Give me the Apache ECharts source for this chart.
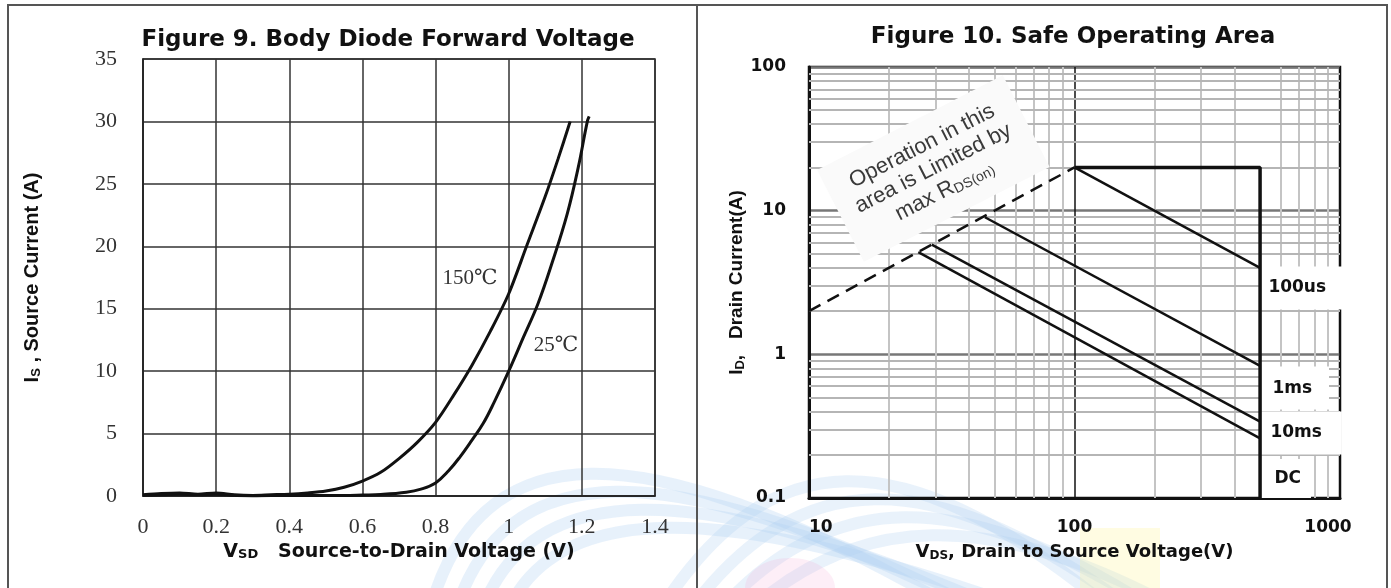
<!DOCTYPE html>
<html lang="en">

<head>
    <meta charset="UTF-8">
    <title>Body Diode Forward Voltage / Safe Operating Area</title>
    <script src="https://cdn.jsdelivr.net/npm/echarts@6/dist/echarts.min.js"></script>
    <style>
        html, body { margin: 0; padding: 0; background: #fff; }
        #main { width: 1391px; height: 588px; }
    </style>
</head>

<body>
    <div id="main"></div>
    <script type="text/javascript">
        // Figure 9: body diode forward voltage (V) vs source current (A)
        var vsd150 = [0, 0.05, 0.1, 0.15, 0.2, 0.25, 0.3, 0.35, 0.4, 0.45, 0.5, 0.55, 0.6, 0.65, 0.7, 0.75, 0.8, 0.85, 0.9, 0.95, 1.0, 1.05, 1.1, 1.135, 1.168];
        var is150 = [0.1, 0.2, 0.25, 0.15, 0.25, 0.1, 0.05, 0.1, 0.15, 0.25, 0.4, 0.7, 1.2, 1.9, 3.0, 4.3, 5.9, 8.1, 10.5, 13.2, 16.2, 20.1, 24.0, 27.0, 30.0];
        var vsd25 = [0, 0.05, 0.1, 0.15, 0.2, 0.25, 0.3, 0.35, 0.4, 0.45, 0.5, 0.55, 0.6, 0.65, 0.72, 0.76, 0.8, 0.835, 0.866, 0.9, 0.93, 0.96, 1.0, 1.04, 1.08, 1.12, 1.16, 1.19, 1.215, 1.22];
        var is25 = [0.05, 0.1, 0.15, 0.1, 0.15, 0.05, 0.0, 0.05, 0.05, 0.05, 0.05, 0.05, 0.08, 0.12, 0.3, 0.55, 1.05, 2.0, 3.1, 4.5, 5.8, 7.5, 10.0, 12.7, 15.4, 18.8, 22.6, 26.3, 30.0, 30.4];

        // Figure 10: safe operating area (log-log)
        var rdsV = [10, 100];
        var rdsI = [2, 20];
        var us100V = [100, 500];
        var us100I = [20, 4];
        var ms1V = [46, 500];
        var ms1I = [9.0, 0.83];
        var ms10V = [29, 500];
        var ms10I = [5.8, 0.34];
        var dcV = [25.8, 500];
        var dcI = [5.15, 0.26];
        var limitV = [100, 500, 500];
        var limitI = [20, 20, 0.1];
        var minorV = [20, 30, 40, 50, 60, 70, 80, 90, 200, 300, 400, 600, 700, 800, 900];
        var minorI = [0.2, 0.3, 0.4, 0.5, 0.6, 0.7, 0.8, 0.9, 2, 3, 4, 5, 6, 7, 8, 9, 20, 30, 40, 50, 60, 70, 80, 90];

        function zip(xs, ys) {
            var arr = [];
            for (var i = 0; i < xs.length; i++) {
                arr.push([xs[i], ys[i]]);
            }
            return arr;
        }

        var black = '#111';
        var sans = '"DejaVu Sans", sans-serif';
        var arial = '"Liberation Sans", Arial, sans-serif';
        var serif = '"Liberation Serif", "DejaVu Serif", serif';

        // faint watermark bands behind both panels
        var marks = [];
        for (var k = 0; k < 4; k++) {
            marks.push({
                type: 'bezierCurve', z: -10, silent: true,
                shape: { x1: 430 + 26 * k, y1: 610, cpx1: 480 + 26 * k, cpy1: 430 + 24 * k, cpx2: 640 + 26 * k, cpy2: 430 + 24 * k, x2: 940 + 20 * k, y2: 600 },
                style: { stroke: 'rgba(175,210,242,0.3)', lineWidth: 12, fill: null }
            });
            marks.push({
                type: 'bezierCurve', z: -10, silent: true,
                shape: { x1: 660 + 30 * k, y1: 610, cpx1: 770 + 30 * k, cpy1: 440 + 24 * k, cpx2: 900 + 30 * k, cpy2: 440 + 24 * k, x2: 1100 + 20 * k, y2: 600 },
                style: { stroke: 'rgba(175,210,242,0.28)', lineWidth: 12, fill: null }
            });
        }
        marks.push({ type: 'ellipse', z: -10, silent: true, shape: { cx: 790, cy: 588, rx: 45, ry: 30 }, style: { fill: 'rgba(245,170,215,0.2)' } });
        marks.push({ type: 'rect', z: -10, silent: true, shape: { x: 1080, y: 528, width: 80, height: 70 }, style: { fill: 'rgba(255,242,140,0.25)' } });

        var myChart = echarts.init(document.getElementById('main'));
        var option = {
            animation: false,
            backgroundColor: '#fff',
            graphic: marks.concat([
                { type: 'rect', shape: { x: 8, y: 5, width: 1379, height: 620 }, style: { fill: null, stroke: '#555', lineWidth: 2 } },
                { type: 'line', shape: { x1: 697, y1: 5, x2: 697, y2: 588 }, style: { stroke: '#555', lineWidth: 2 } },
                {
                    type: 'text', x: 388, y: 40,
                    style: { text: 'Figure 9. Body Diode Forward Voltage', fontFamily: sans, fontWeight: 'bold', fontSize: 23, fill: black, align: 'center', verticalAlign: 'middle' }
                },
                {
                    type: 'text', x: 1073, y: 37,
                    style: { text: 'Figure 10. Safe Operating Area', fontFamily: sans, fontWeight: 'bold', fontSize: 23, fill: black, align: 'center', verticalAlign: 'middle' }
                }
            ]),
            grid: [
                { left: 143, top: 59, width: 512, height: 437, show: true, borderColor: '#222', borderWidth: 1.5 },
                { left: 809, top: 67, width: 531, height: 431, show: true, borderColor: black, borderWidth: 2.5 }
            ],
            xAxis: [
                {
                    gridIndex: 0, type: 'value', min: 0, max: 1.4, interval: 0.2,
                    axisLine: { lineStyle: { color: '#222', width: 1.5 } },
                    axisTick: { show: false },
                    splitLine: { lineStyle: { color: '#333', width: 1.5 } },
                    axisLabel: {
                        margin: 20, color: '#333', fontFamily: serif, fontSize: 22,
                        formatter: function (v) { return +v.toFixed(1) + ''; }
                    },
                    name: 'V{s|SD}   Source-to-Drain Voltage (V)',
                    nameLocation: 'middle', nameGap: 44,
                    nameTextStyle: {
                        color: black, fontFamily: sans, fontWeight: 'bold', fontSize: 19,
                        rich: { s: { fontFamily: sans, fontWeight: 'bold', fontSize: 13, padding: [5, 0, 0, 0] } }
                    }
                },
                {
                    gridIndex: 1, type: 'log', logBase: 10, min: 10, max: 1000,
                    axisLine: { lineStyle: { color: black, width: 3 } },
                    axisTick: { show: false },
                    splitLine: { lineStyle: { color: black, width: 1.5 } },
                    axisLabel: {
                        margin: 21, color: black, fontFamily: sans, fontWeight: 'bold', fontSize: 17,
                        alignMinLabel: 'left', alignMaxLabel: 'center',
                        formatter: function (v) { return v >= 1000 ? '{r|' + Math.round(v) + '}' : String(Math.round(v)); },
                        rich: { r: { fontFamily: sans, fontWeight: 'bold', fontSize: 17, color: black, padding: [0, 24, 0, 0] } }
                    },
                    name: 'V{s|DS}, Drain to Source Voltage(V)',
                    nameLocation: 'middle', nameGap: 44,
                    nameTextStyle: {
                        color: black, fontFamily: sans, fontWeight: 'bold', fontSize: 18,
                        rich: { s: { fontFamily: sans, fontWeight: 'bold', fontSize: 12, padding: [8, 0, 0, 0] } }
                    }
                }
            ],
            yAxis: [
                {
                    gridIndex: 0, type: 'value', min: 0, max: 35, interval: 5,
                    axisLine: { lineStyle: { color: '#222', width: 1.5 } },
                    axisTick: { show: false },
                    splitLine: { lineStyle: { color: '#333', width: 1.5 } },
                    axisLabel: { margin: 26, color: '#333', fontFamily: serif, fontSize: 22 },
                    name: 'I{s|S} , Source Current (A)',
                    nameLocation: 'middle', nameGap: 100,
                    nameTextStyle: {
                        color: black, fontFamily: arial, fontWeight: 'bold', fontSize: 20,
                        rich: { s: { fontFamily: arial, fontWeight: 'bold', fontSize: 13, padding: [8, 0, 0, 0] } }
                    }
                },
                {
                    gridIndex: 1, type: 'log', logBase: 10, min: 0.1, max: 100,
                    axisLine: { lineStyle: { color: black, width: 3 } },
                    axisTick: { show: false },
                    splitLine: { lineStyle: { color: '#777', width: 2.5 } },
                    axisLabel: { margin: 23, color: black, fontFamily: sans, fontWeight: 'bold', fontSize: 17, padding: [6, 0, 0, 0] },
                    name: 'I{s|D},   Drain Current(A)',
                    nameLocation: 'middle', nameGap: 60,
                    nameTextStyle: {
                        color: black, fontFamily: arial, fontWeight: 'bold', fontSize: 19,
                        rich: { s: { fontFamily: arial, fontWeight: 'bold', fontSize: 13, padding: [7, 0, 0, 0] } }
                    }
                }
            ],
            series: [
                {
                    name: '150℃', type: 'line', xAxisIndex: 0, yAxisIndex: 0,
                    data: zip(vsd150, is150), smooth: 0.3, showSymbol: false,
                    lineStyle: { color: black, width: 3 },
                    markPoint: {
                        symbolSize: 1, itemStyle: { color: 'transparent' },
                        label: { show: true, position: 'inside', color: '#333', fontFamily: serif, fontSize: 21, formatter: '{b}' },
                        data: [{ name: '150℃', coord: [0.894, 17.4] }]
                    }
                },
                {
                    name: '25℃', type: 'line', xAxisIndex: 0, yAxisIndex: 0,
                    data: zip(vsd25, is25), smooth: 0.4, showSymbol: false,
                    lineStyle: { color: black, width: 3 },
                    markPoint: {
                        symbolSize: 1, itemStyle: { color: 'transparent' },
                        label: { show: true, position: 'inside', color: '#333', fontFamily: serif, fontSize: 21, formatter: '{b}' },
                        data: [{ name: '25℃', coord: [1.129, 12.0] }]
                    }
                },
                {
                    name: 'minor V', type: 'line', xAxisIndex: 1, yAxisIndex: 1, data: [],
                    markLine: {
                        silent: true, symbol: ['none', 'none'], z: 1, label: { show: false },
                        lineStyle: { color: '#c4c4c4', width: 2, type: 'solid' },
                        data: minorV.map(function (v) { return { xAxis: v }; })
                    }
                },
                {
                    name: 'minor I', type: 'line', xAxisIndex: 1, yAxisIndex: 1, data: [],
                    markLine: {
                        silent: true, symbol: ['none', 'none'], z: 1, label: { show: false },
                        lineStyle: { color: '#b5b5b5', width: 2, type: 'solid' },
                        data: minorI.map(function (v) { return { yAxis: v }; })
                    }
                },
                {
                    name: 'RDS(on) limit', type: 'line', xAxisIndex: 1, yAxisIndex: 1, z: 3,
                    data: zip(rdsV, rdsI), showSymbol: false,
                    lineStyle: { color: black, width: 2.5, type: [13, 8] },
                    markPoint: {
                        z: 2, symbolSize: 1, itemStyle: { color: 'transparent' },
                        label: {
                            show: true, position: 'inside', rotate: 27,
                            color: '#3a3a3a', fontFamily: arial, fontSize: 22, lineHeight: 25,
                            backgroundColor: '#fafafa', padding: [14, 18, 14, 18],
                            formatter: 'Operation in this\narea is Limited by\nmax R{sub|DS(on)}',
                            rich: { sub: { fontFamily: arial, fontSize: 14, color: '#3a3a3a', padding: [8, 0, 0, 0] } }
                        },
                        data: [{ name: 'note', coord: [29.4, 19.5] }]
                    }
                },
                {
                    name: '100us', type: 'line', xAxisIndex: 1, yAxisIndex: 1, z: 3,
                    data: zip(us100V, us100I), showSymbol: false,
                    lineStyle: { color: black, width: 2.5 }
                },
                {
                    name: '1ms', type: 'line', xAxisIndex: 1, yAxisIndex: 1, z: 3,
                    data: zip(ms1V, ms1I), showSymbol: false,
                    lineStyle: { color: black, width: 2.5 }
                },
                {
                    name: '10ms', type: 'line', xAxisIndex: 1, yAxisIndex: 1, z: 3,
                    data: zip(ms10V, ms10I), showSymbol: false,
                    lineStyle: { color: black, width: 2.5 }
                },
                {
                    name: 'DC', type: 'line', xAxisIndex: 1, yAxisIndex: 1, z: 3,
                    data: zip(dcV, dcI), showSymbol: false,
                    lineStyle: { color: black, width: 2.5 }
                },
                {
                    name: 'limit', type: 'line', xAxisIndex: 1, yAxisIndex: 1, z: 4,
                    data: zip(limitV, limitI), showSymbol: false,
                    lineStyle: { color: black, width: 3.5 },
                    markPoint: {
                        z: 2, symbolSize: 1, itemStyle: { color: 'transparent' },
                        label: {
                            show: true, position: 'right', distance: 0,
                            color: black, fontFamily: sans, fontWeight: 'bold', fontSize: 17,
                            backgroundColor: '#fff', formatter: '{b}'
                        },
                        data: [
                            { name: '100us', coord: [500, 2.88], label: { padding: [13, 20, 13, 8] } },
                            { name: '1ms', coord: [500, 0.578], label: { padding: [13, 17, 13, 12] } },
                            { name: '10ms', coord: [500, 0.2817], label: { padding: [13, 20, 13, 10] } },
                            { name: 'DC', coord: [500, 0.136], label: { padding: [11, 10, 11, 14] } }
                        ]
                    }
                }
            ]
        };
        myChart.setOption(option);
    </script>
</body>

</html>
